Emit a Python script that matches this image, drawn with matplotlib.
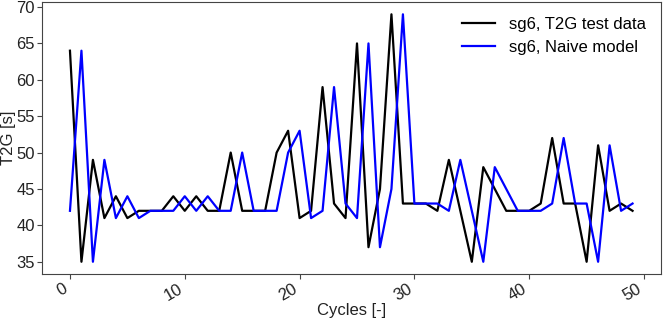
import matplotlib
matplotlib.use("Agg")
import matplotlib.pyplot as plt

plt.rcParams['font.family'] = ['Liberation Sans', 'DejaVu Sans']

cycles = list(range(50))

# T2G test data (s)
t2g_test = [64, 35, 49, 41, 44, 41, 42, 42, 42, 44,
            42, 44, 42, 42, 50, 42, 42, 42, 50, 53,
            41, 42, 59, 43, 41, 65, 37, 45, 69, 43,
            43, 43, 42, 49, 42, 35, 48, 45, 42, 42,
            42, 43, 52, 43, 43, 35, 51, 42, 43, 42]

# Naive model prediction (s)
t2g_naive = [42, 64, 35, 49, 41, 44, 41, 42, 42, 42,
             44, 42, 44, 42, 42, 50, 42, 42, 42, 50,
             53, 41, 42, 59, 43, 41, 65, 37, 45, 69,
             43, 43, 43, 42, 49, 42, 35, 48, 45, 42,
             42, 42, 43, 52, 43, 43, 35, 51, 42, 43]

fig = plt.figure(figsize=(6.64, 3.21), dpi=100)
ax = fig.add_axes([0.063, 0.146, 0.932, 0.848])

ax.plot(cycles, t2g_test, color='black', lw=1.6, label='sg6, T2G test data')
ax.plot(cycles, t2g_naive, color='blue', lw=1.6, label='sg6, Naive model')

for s in ax.spines.values():
    s.set_color('#444444')

ax.set_xlabel('Cycles [-]', fontsize=12, color='#222222', labelpad=0)
ax.set_ylabel('T2G [s]', fontsize=12, color='#222222', labelpad=0)
ax.tick_params(labelsize=12, pad=1.5, length=3.5, colors='#444444', labelcolor='#222222')
for lbl in ax.get_xticklabels():
    lbl.set_rotation(30)
    lbl.set_ha('right')

ax.legend(loc='upper right', frameon=False, fontsize=12)

fig.savefig('out.png', dpi=100)
